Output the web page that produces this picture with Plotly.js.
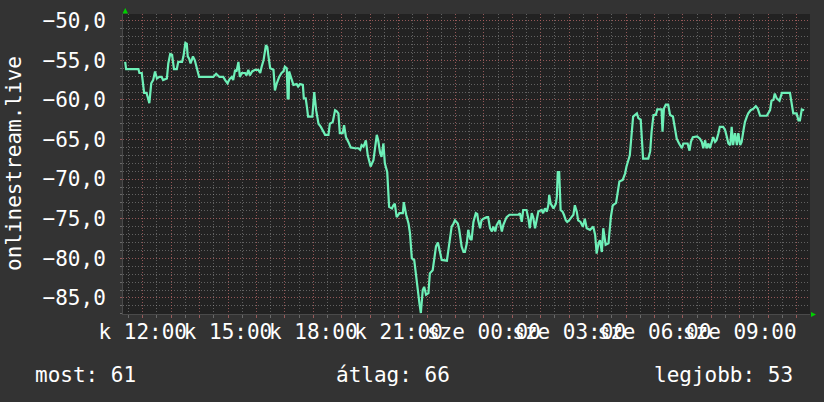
<!DOCTYPE html>
<html>
<head>
<meta charset="utf-8">
<script src="https://cdn.plot.ly/plotly-3.0.1.min.js"></script>
<style>html,body{margin:0;padding:0;background:#333333;}#chart{width:824px;height:402px;}</style>
</head>
<body>
<div id="chart"></div>
<script>
// minutes since Tuesday (k) 00:00
const times = [
683,685,711,713,718,720,723,728,734,738,
742,746,750,755,760,763,771,774,778,782,
786,792,795,803,806,810,813,815,818,821,
826,830,834,839,869,875,882,890,894,899,
903,908,911,915,918,922,925,929,936,939,
943,946,951,957,964,968,971,975,980,983,
985,989,996,999,1003,1008,1013,1017,1020,1024,
1026,1028,1029,1034,1038,1045,1048,1052,1058,1060,
1064,1067,1069,1078,1082,1086,1091,1096,1101,1105,
1112,1115,1121,1126,1129,1133,1136,1142,1145,1149,
1154,1159,1168,1175,1179,1182,1186,1191,1195,1201,
1207,1210,1214,1217,1221,1224,1228,1231,1236,1240,
1246,1249,1252,1256,1262,1269,1271,1276,1281,1284,
1288,1293,1296,1300,1304,1307,1311,1314,1318,1323,
1326,1332,1335,1339,1343,1347,1351,1362,1367,1372,
1376,1379,1385,1388,1393,1397,1400,1404,1407,1411,
1414,1418,1423,1426,1428,1432,1435,1439,1446,1449,
1453,1457,1460,1464,1467,1473,1478,1481,1485,1488,
1494,1513,1516,1520,1523,1530,1534,1537,1541,1544,
1548,1552,1555,1562,1565,1569,1573,1576,1578,1581,
1584,1587,1592,1594,1596,1599,1602,1606,1609,1613,
1616,1620,1625,1629,1632,1636,1639,1644,1649,1653,
1657,1664,1671,1675,1678,1682,1685,1689,1692,1697,
1703,1708,1712,1719,1726,1733,1738,1741,1748,1752,
1755,1763,1766,1771,1776,1787,1791,1794,1798,1803,
1806,1815,1817,1820,1824,1829,1833,1839,1842,1847,
1852,1858,1861,1870,1874,1877,1881,1890,1896,1900,
1903,1907,1910,1914,1917,1921,1924,1928,1931,1935,
1938,1945,1949,1953,1956,1960,1963,1966,1970,1974,
1977,1981,1984,1988,1991,1995,1998,2003,2009,2014,
2018,2023,2037,2040,2044,2047,2051,2054,2058,2064,
2069,2086,2090,2093,2100,2104,2107,2111,2116
];
const values = [
-55.2,-56.1,-56.1,-56.6,-56.6,-57.9,-59.1,-59.1,-60.4,-57.9,
-57.5,-56.4,-57.3,-57.1,-57.1,-57.5,-57.3,-55.4,-54.2,-54.3,
-56.1,-56.1,-55.2,-55.2,-54.5,-52.8,-52.9,-54.5,-54.8,-55.4,
-54.5,-55.0,-55.8,-57.1,-57.1,-56.7,-57.1,-57.1,-57.5,-57.9,
-57.4,-57.1,-57.5,-56.2,-56.4,-55.2,-57.1,-56.6,-56.6,-56.9,
-56.2,-56.9,-56.4,-56.2,-56.2,-56.6,-55.8,-55.0,-53.1,-53.3,
-54.3,-56.0,-56.2,-58.8,-57.9,-57.1,-56.6,-56.4,-55.8,-56.0,
-59.8,-59.8,-56.4,-57.5,-58.1,-58.0,-58.3,-58.0,-58.1,-59.8,
-59.8,-61.1,-62.1,-62.1,-59.0,-61.3,-63.0,-63.4,-64.0,-64.4,
-64.4,-63.0,-62.8,-61.3,-61.4,-61.7,-64.2,-64.2,-63.2,-64.7,
-65.3,-66.0,-66.1,-66.1,-66.3,-65.7,-65.9,-65.1,-67.0,-68.4,
-67.6,-65.9,-64.4,-65.1,-66.7,-67.2,-65.5,-68.0,-69.1,-73.5,
-73.7,-73.3,-73.1,-74.8,-74.3,-74.3,-72.9,-74.5,-75.6,-76.8,
-80.0,-80.2,-81.9,-84.0,-85.7,-86.9,-84.0,-83.6,-84.6,-84.4,
-81.9,-81.5,-80.2,-78.5,-78.0,-79.0,-80.2,-80.3,-78.1,-76.0,
-75.6,-75.2,-75.6,-76.4,-78.5,-79.2,-79.2,-78.1,-76.4,-77.5,
-77.7,-75.4,-74.3,-74.4,-75.2,-76.2,-75.2,-75.0,-74.8,-74.8,
-76.2,-76.6,-76.0,-76.6,-75.8,-75.2,-76.6,-75.8,-75.2,-74.8,
-74.5,-74.5,-74.3,-75.4,-73.9,-73.9,-75.0,-76.2,-74.3,-74.8,
-76.2,-74.8,-74.1,-73.9,-74.3,-73.7,-74.1,-73.3,-72.0,-73.1,
-73.5,-73.7,-73.1,-72.2,-69.1,-69.1,-73.9,-74.1,-74.5,-75.2,
-75.4,-75.2,-74.8,-74.5,-73.3,-74.1,-75.2,-75.4,-76.0,-75.0,
-76.2,-76.4,-76.0,-77.1,-79.4,-78.1,-77.7,-79.2,-76.2,-78.3,
-78.1,-74.8,-73.3,-73.0,-70.3,-70.1,-69.3,-68.4,-67.0,-63.8,
-62.1,-61.7,-62.3,-62.5,-67.4,-67.4,-66.5,-64.0,-61.9,-61.9,
-61.2,-61.2,-64.0,-61.1,-60.6,-60.6,-61.9,-62.1,-63.2,-64.9,
-65.5,-66.1,-65.5,-65.5,-66.4,-65.3,-64.7,-64.6,-64.9,-65.3,
-66.1,-65.1,-66.1,-65.5,-66.1,-65.1,-64.7,-65.3,-65.1,-64.2,
-63.4,-63.4,-63.8,-64.7,-65.5,-65.7,-63.4,-65.7,-64.2,-65.7,
-64.2,-65.7,-65.3,-63.8,-62.8,-62.1,-61.7,-61.3,-61.1,-60.8,
-61.1,-62.0,-62.0,-61.7,-61.3,-60.1,-60.0,-59.2,-59.8,-60.1,
-59.1,-59.1,-60.6,-61.7,-61.7,-62.6,-62.6,-61.2,-61.3
];
const tickTimes = [720, 900, 1080, 1260, 1440, 1620, 1800, 1980];
const tickLabels = ['k 12:00', 'k 15:00', 'k 18:00', 'k 21:00', 'sze 00:00', 'sze 03:00', 'sze 06:00', 'sze 09:00'];
const yTicks = [-85, -80, -75, -70, -65, -60, -55, -50];
const axisTitle = 'onlinestream.live';
const statLabels = ['most: 61', 'átlag: 66', 'legjobb: 53'];

const xRange = [678.4, 2128.3];
const yRange = [-87.03, -49.15];

// hourly major grid, labels every 3 hours
const hourVals = [], hourText = [];
for (let m = 660; m <= 2160; m += 60) {
  hourVals.push(m);
  const i = tickTimes.indexOf(m);
  hourText.push(i >= 0 ? tickLabels[i] : '');
}

const MAJOR = 'rgba(190,80,80,0.55)';
const MINOR = 'rgba(160,160,160,0.5)';
const FONT = 'DejaVu Sans Mono, monospace';

const trace = {
  x: times, y: values, type: 'scatter', mode: 'lines',
  line: {color: '#6ef0b8', width: 2.2},
  hoverinfo: 'skip'
};

const statX = [-90, 211, 529];
const annotations = statLabels.map((t, i) => ({
  text: t, xref: 'paper', yref: 'paper', x: 0, y: 0,
  xanchor: 'left', yanchor: 'middle', xshift: statX[i], yshift: -61,
  showarrow: false, font: {family: FONT, size: 21, color: '#ffffff'}
}));
annotations.push({
  text: axisTitle, xref: 'paper', yref: 'paper', x: 0, y: 0.5,
  xanchor: 'center', yanchor: 'middle', xshift: -109, textangle: -90,
  showarrow: false, font: {family: FONT, size: 21, color: '#ffffff'}
});

const layout = {
  width: 824, height: 402,
  paper_bgcolor: '#333333', plot_bgcolor: '#222222',
  margin: {l: 123, r: 14, t: 14, b: 88},
  separators: ', ',
  font: {family: FONT, size: 21, color: '#ffffff'},
  showlegend: false,
  xaxis: {
    range: xRange, tickmode: 'array', tickvals: hourVals, ticktext: hourText,
    tickangle: 0, showgrid: true, gridcolor: MAJOR, griddash: '1px,2px', gridwidth: 1,
    ticks: 'outside', ticklen: 3, tickcolor: MAJOR, tickwidth: 1,
    minor: {tickmode: 'linear', tick0: 0, dtick: 30, showgrid: true, gridcolor: MINOR,
            griddash: '1px,2px', gridwidth: 1, ticks: 'outside', ticklen: 3, tickcolor: MINOR},
    showline: true, linecolor: '#4a4a4a', linewidth: 1, zeroline: false, fixedrange: true,
    ticklabelstandoff: -4,
    tickfont: {family: FONT, size: 21, color: '#ffffff'}
  },
  yaxis: {
    range: yRange, tickmode: 'array', tickvals: yTicks, tickformat: '.1f',
    showgrid: true, gridcolor: MAJOR, griddash: '1px,2px', gridwidth: 1,
    ticks: 'outside', ticklen: 2, tickcolor: MAJOR,
    minor: {tickmode: 'linear', tick0: 0, dtick: 1, showgrid: true, gridcolor: MINOR,
            griddash: '1px,2px', gridwidth: 1, ticks: 'outside', ticklen: 2, tickcolor: MINOR},
    showline: true, linecolor: '#4a4a4a', linewidth: 1, zeroline: false, fixedrange: true,
    ticklabelstandoff: 10,
    tickfont: {family: FONT, size: 21, color: '#ffffff'}
  },
  annotations: annotations,
  shapes: [
    {type: 'path', xref: 'paper', yref: 'paper', line: {width: 0}, fillcolor: '#00d000',
     path: 'M -0.0007 1.0017 L 0.0073 1.0017 L 0.0033 1.02 Z'},
    {type: 'path', xref: 'paper', yref: 'paper', line: {width: 0}, fillcolor: '#00d000',
     path: 'M 1.0015 0.0067 L 1.0015 -0.01 L 1.0087 -0.0017 Z'}
  ]
};

Plotly.newPlot('chart', [trace], layout, {displayModeBar: false, staticPlot: true});
</script>
</body>
</html>
